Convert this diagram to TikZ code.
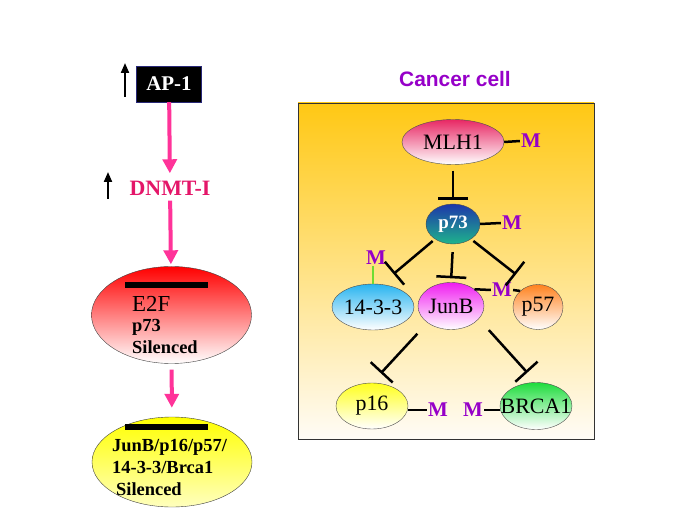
\documentclass[tikz,border=0pt]{standalone}
\usepackage{fontspec}
\setmainfont{Liberation Serif}
\setsansfont{Liberation Sans}
\usetikzlibrary{arrows.meta,shapes.geometric,positioning,calc}

\definecolor{arrowpink}{RGB}{255,51,153}
\definecolor{dnmtred}{RGB}{228,22,105}
\definecolor{methpurple}{RGB}{150,0,200}
\definecolor{cellgold}{RGB}{255,200,20}
\definecolor{cellmid}{RGB}{253,226,170}
\definecolor{cellbottom}{RGB}{255,252,246}
\definecolor{mlhpink}{RGB}{232,40,100}
\definecolor{p73blue}{RGB}{30,55,170}
\definecolor{p73green}{RGB}{30,180,140}
\definecolor{skyblue}{RGB}{40,180,240}
\definecolor{junbmag}{RGB}{240,30,240}
\definecolor{p57orange}{RGB}{255,130,30}
\definecolor{p16yellow}{RGB}{255,255,30}
\definecolor{brcagreen}{RGB}{30,220,60}
\definecolor{paleyellow}{RGB}{255,255,190}
\definecolor{limeline}{RGB}{110,220,50}

\newcommand{\genelabel}[1]{\makebox[0pt]{#1}}

\begin{document}
\begin{tikzpicture}[x=1bp,y=-1bp,
  gene/.style={ellipse,draw=black!70,thin,inner sep=0pt,bottom color=white,
    font=\fontsize{22}{22}\selectfont},
  bigell/.style={ellipse,draw=black!75,thin,inner sep=0pt,minimum width=160bp},
  meth/.style={text=methpurple,font=\bfseries\fontsize{21}{21}\selectfont,inner sep=1bp},
  methline/.style={line width=2.5bp},
  inhibit/.style={line width=2.5bp,-{Bar[width=30bp]}},
  pinkarrow/.style={arrowpink,line width=4bp,-{Triangle[width=14bp,length=14bp]}},
  upind/.style={line width=2bp,-{Triangle[width=8bp,length=10bp]}},
  silbar/.style={line width=6bp},
  boldtxt/.style={anchor=base west,inner sep=0pt,font=\bfseries\fontsize{18.5}{18.5}\selectfont}
]
\useasboundingbox (0,0) rectangle (685,513);

% Left pathway
\draw[upind] (125,97) -- (125,63);
\node[draw={rgb,255:red,40;green,40;blue,120},fill=black,text=white,inner sep=0pt,
  minimum width=65bp,minimum height=36bp,font=\bfseries\fontsize{21}{21}\selectfont] (ap1) at (169,84) {AP-1};
\draw[upind] (108,199) -- (108,172);
\node[text=dnmtred,font=\bfseries\fontsize{22}{22}\selectfont] (dnmt) at (170,188) {DNMT-I};

\node[bigell,top color=red,bottom color=white,minimum height=97bp] (e2f) at (171.5,315) {};
\draw[silbar] (125,285) -- (208,285);
\node[anchor=base west,inner sep=0pt,font=\fontsize{23}{23}\selectfont] (e2ftxt) at (132,311) {E2F};
\node[boldtxt] (p73txt) at (132,331) {p73};
\node[boldtxt] (siltxt) at (132,353) {Silenced};

\node[bigell,top color=yellow,bottom color=paleyellow,minimum height=90bp] (silenced) at (172,462) {};
\draw[silbar] (125,427) -- (208,427);
\node[boldtxt] (junbtxt) at (112,451) {JunB/p16/p57/};
\node[boldtxt] (brcatxt) at (112,473) {14-3-3/Brca1};
\node[boldtxt] (siltxtb) at (116,495) {Silenced};

\draw[pinkarrow,shorten >=4bp] (ap1) -- (dnmt);
\draw[pinkarrow,shorten <=2bp,shorten >=2bp] (dnmt) -- (e2f);
\draw[pinkarrow,shorten <=6bp,shorten >=9bp] (e2f) -- (silenced);

% Cancer cell
\node[text=methpurple,font=\sffamily\bfseries\fontsize{21}{21}\selectfont] (title) at (455,79) {Cancer cell};
\shade[top color=cellgold,middle color=cellmid,bottom color=cellbottom] (298,103) rectangle (594,439);
\draw[black!80,thin] (298,103) rectangle (594,439);

\node[gene,top color=mlhpink,minimum width=102bp,minimum height=45bp] (mlh1) at (453,142) {\genelabel{MLH1}};
\node[gene,top color=p73blue,bottom color=p73green,minimum width=54bp,minimum height=40bp,
  text=white,font=\bfseries\fontsize{19}{19}\selectfont] (p73) at (453,224) {p73};
\node[gene,top color=skyblue,minimum width=82bp,minimum height=46bp] (n1433) at (373,307) {\genelabel{14-3-3}};
\node[gene,top color=junbmag,minimum width=66bp,minimum height=47bp] (junb) at (451,306) {\genelabel{JunB}};
\node[gene,top color=p57orange,minimum width=50bp,minimum height=45bp] (p57) at (538,307) {\genelabel{p57}};
\node[gene,top color=p16yellow,minimum width=72bp,minimum height=46bp] (p16) at (372,406) {\genelabel{p16}};
\node[gene,top color=brcagreen,minimum width=72bp,minimum height=47bp] (brca1) at (536,406) {\genelabel{BRCA1}};

% Methylation marks
\node[meth] (mmlh) at (531,141) {M};
\node[meth] (mp73) at (512,223) {M};
\node[meth] (m1433) at (376,258) {M};
\node[meth] (mjunb) at (502,290) {M};
\node[meth] (mp16) at (438,410) {M};
\node[meth] (mbrca) at (473,410) {M};

\draw[methline] (mlh1.east) -- (mmlh.west);
\draw[methline] (p73.east) -- (mp73.west);
\draw[methline,limeline] (n1433.north) -- (n1433.north |- m1433.south);
\draw[methline] (junb.north east) -- (mjunb.west);
\draw[methline] (mjunb.east) -- (p57.north west);
\draw[methline] (mp16.west -| p16.east) -- (mp16.west);
\draw[methline] (mbrca.east) -- (mbrca.east -| brca1.west);

% Inhibitions
\draw[inhibit,shorten <=6bp,shorten >=4bp] (mlh1.south) -- (p73.north);
\draw[inhibit,shorten <=3bp,shorten >=16bp] (p73.220) -- (n1433.70);
\draw[inhibit,shorten <=8bp,shorten >=4bp] (p73.south) -- (junb.north);
\draw[inhibit,shorten <=3bp,shorten >=18bp] (p73.320) -- (p57.110);
\draw[inhibit,shorten <=15bp,shorten >=13bp] (junb.south west) -- (p16.north);
\draw[inhibit,shorten <=15bp,shorten >=13bp] (junb.-25) -- (brca1.north);
\end{tikzpicture}
\end{document}
